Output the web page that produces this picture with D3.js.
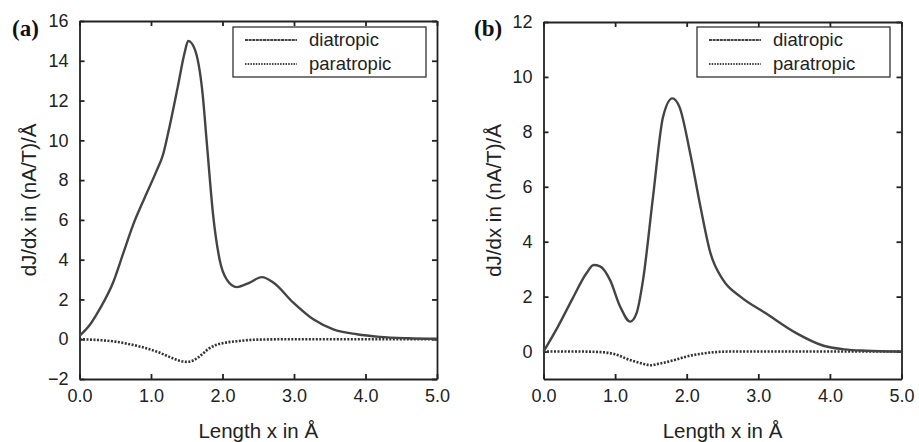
<!DOCTYPE html>
<html>
<head>
<meta charset="utf-8">
<script src="https://cdn.jsdelivr.net/npm/d3@7"></script>
<style>
  body { margin: 0; background: #fff; }
  svg { display: block; font-family: "Liberation Sans", Arial, sans-serif; }
  .tick text { font-size: 18px; fill: #222; }
</style>
</head>
<body>
<svg id="chart" width="919" height="442"></svg>
<script>
// Panel (a) data, x in Angstrom
var a_dia_x = [0, 0.14, 0.28, 0.47, 0.61, 0.75, 0.91, 1.07, 1.17, 1.26, 1.375, 1.47, 1.52, 1.61, 1.72, 1.78, 1.87, 1.96, 2.06, 2.2, 2.38, 2.55, 2.71, 2.99, 3.27, 3.55, 3.88, 4.2, 4.6, 5.0]
var a_dia_y = [0.17, 0.7, 1.5, 2.85, 4.3, 5.75, 7.1, 8.4, 9.3, 10.7, 12.7, 14.4, 15.0, 14.6, 12.4, 9.9, 6.2, 4.0, 3.0, 2.62, 2.85, 3.12, 2.85, 1.84, 1.0, 0.5, 0.25, 0.12, 0.05, 0.02]
var a_para_x = [0, 0.3, 0.5, 0.7, 0.9, 1.1, 1.3, 1.4, 1.5, 1.6, 1.7, 1.8, 1.9, 2.0, 2.2, 2.5, 3.0, 5.0]
var a_para_y = [0, -0.05, -0.12, -0.25, -0.42, -0.65, -0.95, -1.08, -1.14, -1.05, -0.8, -0.5, -0.3, -0.2, -0.1, -0.02, 0, 0]

// Panel (b) data
var b_dia_x = [0, 0.2, 0.4, 0.6, 0.7, 0.79, 0.93, 1.07, 1.21, 1.3, 1.39, 1.53, 1.67, 1.8, 1.9, 2.05, 2.19, 2.33, 2.51, 2.75, 3.1, 3.53, 3.9, 4.2, 4.5, 5.0]
var b_dia_y = [0, 0.9, 1.9, 2.85, 3.15, 3.1, 2.6, 1.64, 1.09, 1.4, 2.6, 5.64, 8.55, 9.22, 8.9, 7.2, 5.3, 3.6, 2.6, 2.0, 1.4, 0.67, 0.22, 0.08, 0.03, 0]
var b_para_x = [0, 0.5, 0.8, 1.0, 1.2, 1.4, 1.5, 1.6, 1.8, 2.0, 2.2, 2.4, 2.6, 5.0]
var b_para_y = [0, 0, -0.02, -0.1, -0.3, -0.45, -0.5, -0.45, -0.33, -0.18, -0.08, -0.02, 0, 0]

var x_ticks = [0, 1, 2, 3, 4, 5]
var a_y_ticks = [-2, 0, 2, 4, 6, 8, 10, 12, 14, 16]
var b_y_ticks = [0, 2, 4, 6, 8, 10, 12]
var legend_labels = ['diatropic', 'paratropic']

var svg = d3.select('#chart')

function zip(xs, ys) {
  return xs.map((x, i) => ({x: x, y: ys[i]}))
}

function panel(cfg) {
  var g = svg.append('g')
  var x = d3.scaleLinear().domain([0, 5]).range([cfg.left, cfg.right])
  var y = d3.scaleLinear().domain(cfg.y_domain).range([cfg.bottom, cfg.top])

  // Axes with inward ticks, mirrored on top / right
  var ax = [
    [d3.axisBottom(x).tickValues(x_ticks).tickFormat(d3.format('.1f')), 'translate(0,' + cfg.bottom + ')', 10],
    [d3.axisTop(x).tickValues(x_ticks).tickFormat(''), 'translate(0,' + cfg.top + ')', 0],
    [d3.axisLeft(y).tickValues(cfg.y_ticks).tickFormat(d => d < 0 ? '\u2212' + (-d) : d), 'translate(' + cfg.left + ',0)', 11],
    [d3.axisRight(y).tickValues(cfg.y_ticks).tickFormat(''), 'translate(' + cfg.right + ',0)', 0]
  ]
  ax.forEach(function(a) {
    var s = g.append('g').attr('transform', a[1])
      .call(a[0].tickSizeInner(-5).tickSizeOuter(0).tickPadding(a[2]))
    s.select('.domain').attr('stroke', '#222').attr('stroke-width', 1.8)
    s.selectAll('.tick line').attr('stroke', '#222').attr('stroke-width', 1.8)
  })

  var line = d3.line().curve(d3.curveMonotoneX)
    .x(d => x(d.x)).y(d => y(d.y))

  g.append('path').attr('d', line(zip(cfg.para_x, cfg.para_y)))
    .attr('fill', 'none').attr('stroke', '#333').attr('stroke-width', 2.6)
    .attr('stroke-dasharray', '2,1.5')

  g.append('path').attr('d', line(zip(cfg.dia_x, cfg.dia_y)))
    .attr('fill', 'none').attr('stroke', '#444').attr('stroke-width', 2.4)

  // Legend
  var lg = g.append('g')
  lg.append('rect')
    .attr('x', cfg.lx).attr('y', 27).attr('width', 193).attr('height', 50)
    .attr('fill', '#fff').attr('stroke', '#333').attr('stroke-width', 1.3)
  legend_labels.forEach(function(lab, i) {
    var yy = 40 + i * 24
    lg.append('line')
      .attr('x1', cfg.lx + 12).attr('x2', cfg.lx + 64)
      .attr('y1', yy).attr('y2', yy)
      .attr('stroke', '#444').attr('stroke-width', 1.8)
      .attr('stroke-dasharray', i == 0 ? '3,0.6' : '1.5,1.2')
    lg.append('text')
      .attr('x', cfg.lx + 76).attr('y', yy + 6)
      .attr('font-size', 18.5).attr('fill', '#222')
      .text(lab)
  })

  // Panel letter
  g.append('text')
    .attr('x', cfg.letter_x).attr('y', 36)
    .attr('font-family', '"Liberation Serif", "Times New Roman", serif')
    .attr('font-weight', 'bold').attr('font-size', 23).attr('fill', '#111')
    .text(cfg.letter)

  // Axis titles
  g.append('text')
    .attr('x', (cfg.left + cfg.right) / 2).attr('y', 438)
    .attr('text-anchor', 'middle').attr('font-size', 20.5).attr('fill', '#222')
    .text('Length x in \u00c5')

  g.append('text')
    .attr('transform', 'translate(' + cfg.ylab_x + ',' + ((cfg.top + cfg.bottom) / 2) + ') rotate(-90)')
    .attr('text-anchor', 'middle').attr('font-size', 20.5).attr('fill', '#222')
    .text('dJ/dx in (nA/T)/\u00c5')
}

panel({
  left: 79.5, right: 437, top: 21, bottom: 379,
  y_domain: [-2, 16], y_ticks: a_y_ticks,
  dia_x: a_dia_x, dia_y: a_dia_y, para_x: a_para_x, para_y: a_para_y,
  lx: 233, letter: '(a)', letter_x: 12, ylab_x: 36
})

panel({
  left: 543.5, right: 901.5, top: 22, bottom: 379,
  y_domain: [-1, 12], y_ticks: b_y_ticks,
  dia_x: b_dia_x, dia_y: b_dia_y, para_x: b_para_x, para_y: b_para_y,
  lx: 697, letter: '(b)', letter_x: 474, ylab_x: 501
})
</script>
</body>
</html>
